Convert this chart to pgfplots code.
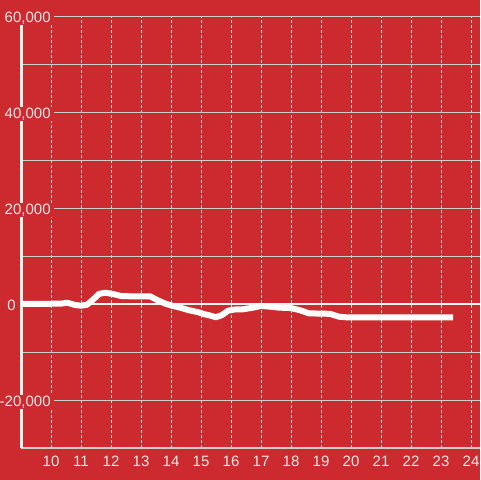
\documentclass[border=0pt]{standalone}
\usepackage{fontspec}
\setmainfont{Liberation Sans}
\usepackage{pgfplots}
\pgfplotsset{compat=1.18}
\definecolor{bg}{RGB}{204,42,46}
\definecolor{gridgray}{RGB}{205,205,205}
\definecolor{axwhite}{RGB}{242,242,242}
\definecolor{labelc}{RGB}{242,232,232}
\begin{document}
\begin{tikzpicture}
  \fill[bg] (0,0) rectangle (240pt,240pt);
  \begin{axis}[
    scale only axis,
    width=229.5pt, height=216pt,
    at={(10.5pt,16pt)}, anchor=south west,
    xmin=9, xmax=24.3,
    ymin=-30000, ymax=60000,
    scaled y ticks=false,
    /pgf/number format/assume math mode=true,
    axis lines=left,
    x axis line style={draw=gridgray, line width=0.5pt, -},
    y axis line style={draw=axwhite, line width=1.5pt, -},
    xtick={10,...,24},
    ytick={-20000,20000,40000,60000},
    yticklabels={{-20,000},{20,000},{40,000},{60,000}},
    minor ytick={-10000,10000,30000,50000},
    xmajorgrids, ymajorgrids, yminorgrids,
    x grid style={draw=axwhite!85!bg, line width=0.5pt, dash pattern=on 1.5pt off 1pt},
    y grid style={draw=gridgray, line width=0.5pt},
    major tick length=0pt, minor tick length=0pt,
    tick label style={font=\fontsize{7.5}{9}\selectfont, text=labelc},
    yticklabel style={anchor=base east, xshift=16.5pt, yshift=-3pt,
      fill=bg, inner xsep=1.5pt, inner ysep=0.5pt},
    xticklabel style={anchor=base, yshift=-9.3pt, inner sep=0pt},
    extra y ticks={0},
    extra y tick labels={0},
    extra y tick style={yticklabel style={xshift=-17.5pt}},
  ]
  % zero line
  \addplot[axwhite, line width=1.4pt] coordinates {(9,0) (24.3,0)};
  \addplot[white, line width=3pt, line join=round, line cap=butt]
  coordinates {
    (9.0,0) (10.0,50) (10.35,100) (10.55,250) (10.8,-200) (11.0,-350)
    (11.2,-150) (11.4,900) (11.6,2100) (11.8,2350) (12.05,2100)
    (12.35,1650) (12.7,1600) (13.0,1600) (13.3,1600) (13.55,800)
    (13.8,100) (14.0,-300) (14.3,-750) (14.6,-1300) (14.9,-1700)
    (15.1,-2100) (15.3,-2400) (15.5,-2750) (15.7,-2300) (15.9,-1400)
    (16.1,-1150) (16.4,-1100) (16.7,-800) (17.0,-400) (17.3,-550)
    (17.6,-750) (18.0,-850) (18.3,-1300) (18.6,-1950) (19.0,-2000)
    (19.3,-2050) (19.6,-2650) (19.9,-2800) (23.4,-2800)
  };
  \end{axis}
  \pgfresetboundingbox
  \path[use as bounding box] (0,0) rectangle (240pt,240pt);
\end{tikzpicture}
\end{document}
